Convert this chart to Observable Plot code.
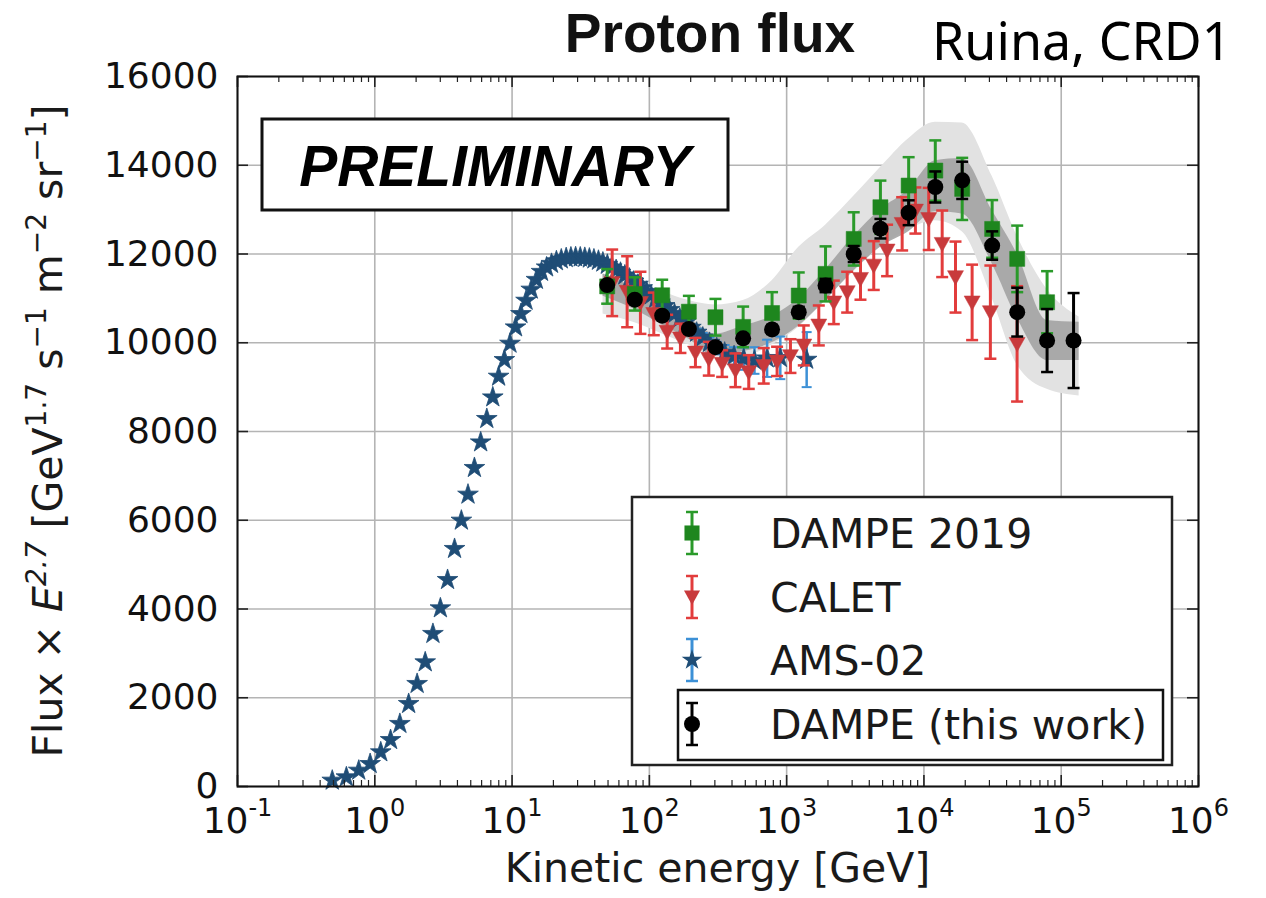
<!DOCTYPE html>
<html>
<head>
<meta charset="utf-8">
<script src="https://cdn.jsdelivr.net/npm/d3@7"></script>
<script src="https://cdn.jsdelivr.net/npm/@observablehq/plot@0.6"></script>
<style>
html,body{margin:0;padding:0;background:#fff;}
#chart{width:1266px;height:898px;position:relative;}
</style>
</head>
<body>
<div id="chart"></div>
<script>
// ---------------- data ----------------
const xTickValues = [0.1, 1, 10, 100, 1000, 10000, 100000, 1000000];
const xTickExponents = ["-1", "0", "1", "2", "3", "4", "5", "6"];
const yTickValues = [0, 2000, 4000, 6000, 8000, 10000, 12000, 14000, 16000];
const yTickLabels = ["0", "2000", "4000", "6000", "8000", "10000", "12000", "14000", "16000"];

const titleText = "Proton flux";
const authorText = "Ruina, CRD1";
const xLabelText = "Kinetic energy [GeV]";
const stampText = "PRELIMINARY";
const legendLabels = ["DAMPE 2019", "CALET", "AMS-02", "DAMPE (this work)"];

// AMS-02
const amsEnergy = [0.49, 0.621, 0.764, 0.925, 1.105, 1.303, 1.523, 1.765, 2.034, 2.33,
  2.652, 3.005, 3.39, 3.811, 4.272, 4.775, 5.318, 5.907, 6.546, 7.236,
  7.98, 8.787, 9.654, 10.6, 11.6, 12.64, 13.79, 15.04, 16.39, 17.84,
  19.38, 21.03, 22.83, 24.78, 26.83, 29.03, 31.38, 33.87, 36.57, 39.47,
  42.57, 45.87, 49.42, 53.22, 57.27, 61.62, 66.32, 71.37, 76.77, 82.57,
  88.82, 95.57, 103.1, 111.1, 119.6, 129.1, 140.1, 152.6, 166.6, 182.6,
  200.6, 221.1, 245.1, 274.1, 309.6, 353.6, 414.1, 487.1, 583.1, 720.6,
  899.1, 1399];
const amsFlux = [135, 210, 360, 510, 773, 1050, 1413, 1863, 2314, 2801,
  3441, 4018, 4657, 5356, 5994, 6580, 7181, 7758, 8285, 8772,
  9238, 9614, 9982, 10349, 10650, 10950, 11200, 11420, 11600, 11700,
  11780, 11840, 11880, 11910, 11925, 11930, 11925, 11915, 11900, 11880,
  11850, 11810, 11760, 11700, 11640, 11580, 11520, 11450, 11380, 11310,
  11230, 11150, 11070, 10990, 10910, 10830, 10740, 10650, 10550, 10450,
  10340, 10230, 10120, 10000, 9880, 9780, 9700, 9640, 9600, 9650,
  9660, 9620];
const amsErr = [0, 0, 0, 0, 0, 0, 0, 0, 0, 0,
  0, 0, 0, 0, 0, 0, 0, 0, 0, 0,
  0, 0, 0, 0, 0, 0, 0, 0, 0, 0,
  0, 0, 0, 0, 0, 0, 0, 0, 0, 0,
  0, 0, 0, 0, 0, 0, 0, 0, 0, 0,
  0, 0, 0, 0, 0, 0, 0, 0, 0, 0,
  80, 90, 100, 120, 140, 170, 200, 250, 300, 420,
  480, 620];

// CALET
const caletEnergy = [53.6, 68.9, 86.1, 107.7, 134.8, 168.4, 216.6, 270.9, 339, 423.6,
  529.7, 681, 852, 1066, 1333, 1715, 2205, 2760, 3450, 4310,
  5390, 6940, 8670, 10840, 13580, 16980, 22440, 30480, 47700];
const caletFlux = [11350, 11150, 10900, 10650, 10250, 10100, 9780, 9640, 9530, 9380,
  9340, 9480, 9580, 9700, 9940, 10390, 10910, 11140, 11440, 11740,
  12080, 12680, 12980, 12790, 12230, 11480, 10910, 10690, 9975];
const caletErr = [750, 800, 700, 480, 380, 330, 330, 380, 300, 380,
  380, 400, 330, 380, 450, 450, 490, 460, 470, 550,
  580, 600, 520, 700, 750, 800, 850, 1050, 1300];

// DAMPE (this work)
const dampeEnergy = [49.3, 78.3, 124, 194, 303, 482, 783, 1225, 1920, 3080,
  4820, 7740, 12100, 19000, 31400, 47800, 78900, 123000];
const dampeFlux = [11300, 10970, 10610, 10310, 9900, 10100, 10300, 10690, 11290, 12000,
  12570, 12930, 13510, 13660, 12190, 10690, 10050, 10050];
const dampeErr = [60, 60, 70, 70, 80, 90, 100, 120, 150, 180,
  220, 280, 350, 420, 320, 550, 710, 1070];

// DAMPE 2019
const dampe19Energy = [49.3, 78.3, 124, 194, 303, 482, 783, 1225, 1920, 3080,
  4820, 7740, 12100, 19000, 31400, 47800, 78900];
const dampe19Flux = [11270, 11100, 11070, 10700, 10575, 10357, 10670, 11064, 11552, 12340,
  13054, 13542, 13880, 13467, 12565, 11890, 10913];
const dampe19Err = [390, 375, 350, 357, 413, 458, 470, 520, 620, 600,
  600, 640, 680, 700, 650, 750, 700];

// uncertainty bands of DAMPE (this work)
const bandEnergy = [46, 78.3, 124, 194, 303, 482, 783, 1225, 1920, 3080,
  4820, 7740, 12100, 19000, 31400, 47800, 78900, 135000];
const bandInnerLo = [11050, 10750, 10400, 10080, 9700, 9800, 10000, 10380, 10950, 11620,
  12150, 12500, 12950, 12900, 11780, 10550, 9600, 9600];
const bandInnerHi = [11550, 11230, 10870, 10560, 10200, 10380, 10600, 11000, 11650, 12400,
  13000, 13450, 14100, 14150, 12980, 12000, 10500, 10460];
const bandOuterLo = [10650, 10450, 10200, 9950, 9700, 9700, 9950, 10350, 10950, 11600,
  12150, 12550, 12750, 12500, 11000, 9500, 8950, 8800];
const bandOuterHi = [11550, 11350, 11150, 10950, 10850, 10950, 11400, 12150, 12650, 13300,
  13950, 14600, 14970, 14950, 13750, 12400, 11200, 10580];

// ---------------- tables ----------------
const ams = amsEnergy.map((E, i) => ({E, F: amsFlux[i], err: amsErr[i]}));
const calet = caletEnergy.map((E, i) => ({E, F: caletFlux[i], err: caletErr[i]}));
const dampe = dampeEnergy.map((E, i) => ({E, F: dampeFlux[i], err: dampeErr[i]}));
const dampe19 = dampe19Energy.map((E, i) => ({E, F: dampe19Flux[i], err: dampe19Err[i]}));
const band = bandEnergy.map((E, i) => ({E, ilo: bandInnerLo[i], ihi: bandInnerHi[i], olo: bandOuterLo[i], ohi: bandOuterHi[i]}));

const xMinor = [];
for (let k = -1; k < 6; k++) for (let m = 2; m <= 9; m++) xMinor.push(m * Math.pow(10, k));

// ---------------- styles ----------------
const C = {
  green: "#1e861e", greenBar: "#2a9a2a",
  red: "#c83a3c", redBar: "#e23c3c",
  blue: "#1f4d76", blueBar: "#3c90d6",
  black: "#000000",
  grid: "#b4b4b4", bandOuter: "#e2e2e2", bandInner: "#a3a3a3"
};
const W = 1266, H = 898, ML = 237, MR = 68, MT = 76, MB = 112;
const PW = W - ML - MR, PH = H - MT - MB;

const capSym = {draw(ctx, size) { const r = Math.sqrt(size / Math.PI); ctx.moveTo(-r, 0); ctx.lineTo(r, 0); }};
const triDown = {draw(ctx, size) { const r = Math.sqrt(size / Math.PI); ctx.moveTo(-r, -0.8 * r); ctx.lineTo(r, -0.8 * r); ctx.lineTo(0, r); ctx.closePath(); }};

function errorMarks(data, color, width, capR) {
  const bars = data.filter(d => d.err > 0);
  return [
    Plot.ruleX(bars, {x: "E", y1: d => d.F - d.err, y2: d => d.F + d.err, stroke: color, strokeWidth: width}),
    Plot.dot(bars, {x: "E", y: d => d.F + d.err, symbol: capSym, r: capR, stroke: color, strokeWidth: width - 0.5, fill: "none"}),
    Plot.dot(bars, {x: "E", y: d => d.F - d.err, symbol: capSym, r: capR, stroke: color, strokeWidth: width - 0.5, fill: "none"})
  ];
}

const chart = Plot.plot({
  width: W, height: H,
  marginLeft: ML, marginRight: MR, marginTop: MT, marginBottom: MB,
  x: {type: "log", domain: [0.1, 1e6]},
  y: {domain: [0, 16000]},
  style: {fontFamily: "DejaVu Sans", background: "#fff", color: "#111", overflow: "visible"},
  marks: [
    Plot.gridX(xTickValues, {stroke: C.grid, strokeOpacity: 1, strokeWidth: 1.6}),
    Plot.gridY(yTickValues, {stroke: C.grid, strokeOpacity: 1, strokeWidth: 1.6}),
    Plot.areaY(band, {x: "E", y1: "olo", y2: "ohi", fill: C.bandOuter, curve: "monotone-x"}),
    Plot.areaY(band, {x: "E", y1: "ilo", y2: "ihi", fill: C.bandInner, fillOpacity: 0.9, curve: "monotone-x"}),
    ...errorMarks(ams, C.blueBar, 2.5, 5),
    Plot.dot(ams, {x: "E", y: "F", symbol: "star", r: 6.5, fill: C.blue, stroke: C.blue, strokeWidth: 0.8}),
    ...errorMarks(calet, C.redBar, 3, 6),
    Plot.dot(calet, {x: "E", y: "F", symbol: triDown, r: 8, fill: C.red, stroke: C.red, strokeWidth: 0.5}),
    ...errorMarks(dampe19, C.greenBar, 3, 6),
    Plot.dot(dampe19, {x: "E", y: "F", symbol: "square", r: 8.5, fill: C.green, stroke: C.green, strokeWidth: 0.5}),
    ...errorMarks(dampe, C.black, 3, 6),
    Plot.dot(dampe, {x: "E", y: "F", symbol: "circle", r: 8, fill: C.black}),
    // inward ticks
    Plot.tickX(xMinor, {x: d => d, insetTop: PH - 6, stroke: "#222", strokeWidth: 1.2}),
    Plot.tickX(xMinor, {x: d => d, insetBottom: PH - 6, stroke: "#222", strokeWidth: 1.2}),
    Plot.tickX(xTickValues, {x: d => d, insetTop: PH - 11, stroke: "#222", strokeWidth: 1.6}),
    Plot.tickX(xTickValues, {x: d => d, insetBottom: PH - 11, stroke: "#222", strokeWidth: 1.6}),
    Plot.tickY(yTickValues, {y: d => d, insetRight: PW - 11, stroke: "#222", strokeWidth: 1.6}),
    Plot.tickY(yTickValues, {y: d => d, insetLeft: PW - 11, stroke: "#222", strokeWidth: 1.6}),
    Plot.axisX({ticks: xTickValues, tickSize: 0, tickPadding: 21, fontSize: 36, label: null,
      tickFormat: d => "10^" + xTickExponents[xTickValues.indexOf(d)]}),
    Plot.axisY({ticks: yTickValues, tickSize: 0, tickPadding: 19, fontSize: 36, label: null,
      tickFormat: d => yTickLabels[yTickValues.indexOf(d)]}),
    Plot.frame({stroke: "#111", strokeWidth: 2})
  ]
});

const svg = d3.select(chart);
svg.attr("font-family", "DejaVu Sans");

// superscript tick labels
svg.selectAll('g[aria-label="x-axis tick label"] text').each(function () {
  const t = d3.select(this);
  const s = t.text();
  const exp = s.split("^")[1];
  t.text(null);
  t.append("tspan").text("10");
  t.append("tspan").attr("dy", -17).attr("font-size", 24).text(exp);
});

// y label
const yl = svg.append("text")
  .attr("transform", "translate(62," + (MT + PH / 2) + ") rotate(-90)")
  .attr("text-anchor", "middle").attr("font-size", 41).attr("fill", "#1a1a1a")
  .attr("font-family", "DejaVu Sans");
const ySeg = [
  ["Flux × ", 0, false, false], ["E", 0, false, true], ["2.7", 1, true, true],
  [" [GeV", -1, false, false], ["1.7", 1, true, false], [" s", -1, false, false],
  ["−1", 1, true, false], [" m", -1, false, false], ["−2", 1, true, false],
  [" sr", -1, false, false], ["−1", 1, true, false], ["]", -1, false, false]
];
ySeg.forEach(([txt, shift, sup, ital]) => {
  const ts = yl.append("tspan").text(txt);
  if (shift === 1) ts.attr("dy", -16);
  if (shift === -1) ts.attr("dy", 16);
  if (sup) ts.attr("font-size", 28);
  if (ital) ts.attr("font-style", "italic");
});

// x label
svg.append("text").attr("x", ML + PW / 2).attr("y", 882).attr("text-anchor", "middle")
  .attr("font-size", 41).attr("fill", "#1a1a1a").text(xLabelText);

// title + author
svg.append("text").attr("x", 710).attr("y", 52).attr("text-anchor", "middle")
  .attr("font-family", "Liberation Sans, Arial, sans-serif").attr("font-weight", "bold")
  .attr("font-size", 55).attr("fill", "#111").text(titleText);
svg.append("text").attr("x", 932).attr("y", 60).attr("text-anchor", "start")
  .attr("font-family", "Noto Sans, sans-serif").attr("font-size", 52).attr("fill", "#000").text(authorText);

// PRELIMINARY stamp
svg.append("rect").attr("x", 262).attr("y", 119).attr("width", 466).attr("height", 91)
  .attr("fill", "#fff").attr("stroke", "#111").attr("stroke-width", 3);
svg.append("text").attr("x", 495).attr("y", 186).attr("text-anchor", "middle")
  .attr("font-family", "Liberation Sans, Arial, sans-serif").attr("font-weight", "bold")
  .attr("font-style", "italic").attr("font-size", 57).attr("fill", "#000").text(stampText);

// legend
const lg = svg.append("g");
lg.append("rect").attr("x", 632).attr("y", 497).attr("width", 540).attr("height", 268)
  .attr("fill", "#fff").attr("stroke", "#222").attr("stroke-width", 2.5);
lg.append("rect").attr("x", 678).attr("y", 690).attr("width", 485).attr("height", 70)
  .attr("fill", "none").attr("stroke", "#111").attr("stroke-width", 2.5);
const legRows = [
  {label: legendLabels[0], bar: C.greenBar, fill: C.green, sym: d3.symbolSquare, r: 8.5, cy: 533},
  {label: legendLabels[1], bar: C.redBar, fill: C.red, sym: triDown, r: 8, cy: 597},
  {label: legendLabels[2], bar: C.blueBar, fill: C.blue, sym: d3.symbolStar, r: 6.5, cy: 660},
  {label: legendLabels[3], bar: C.black, fill: C.black, sym: d3.symbolCircle, r: 8, cy: 724}
];
const lx = 692;
legRows.forEach(row => {
  lg.append("line").attr("x1", lx).attr("x2", lx).attr("y1", row.cy - 21).attr("y2", row.cy + 21)
    .attr("stroke", row.bar).attr("stroke-width", 3);
  [row.cy - 21, row.cy + 21].forEach(yy => lg.append("line").attr("x1", lx - 6).attr("x2", lx + 6)
    .attr("y1", yy).attr("y2", yy).attr("stroke", row.bar).attr("stroke-width", 2.5));
  lg.append("path").attr("d", d3.symbol().type(row.sym).size(Math.PI * row.r * row.r)())
    .attr("transform", "translate(" + lx + "," + row.cy + ")").attr("fill", row.fill);
  lg.append("text").attr("x", 770).attr("y", row.cy + 15).attr("text-anchor", "start")
    .attr("font-size", 41).attr("fill", "#1a1a1a").text(row.label);
});

document.getElementById("chart").appendChild(chart);
</script>
</body>
</html>
